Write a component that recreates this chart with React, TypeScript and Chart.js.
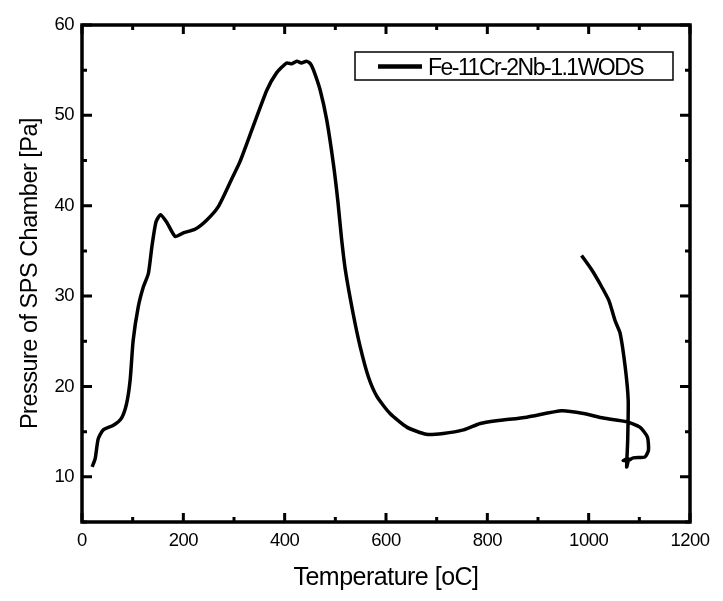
import React, { useEffect, useRef } from "react";
import { Chart, registerables } from "chart.js";

Chart.register(...registerables);

const seriesLabel = "Fe-11Cr-2Nb-1.1WODS";
const xTitle = "Temperature [oC]";
const yTitle = "Pressure of SPS Chamber [Pa]";

const temperature = [
  20, 26, 32, 42, 62, 78, 88, 95, 101, 111, 121, 131, 138, 146, 155, 168, 184,
  200, 223, 246, 269, 295, 312, 338, 365, 384, 404, 414, 424, 433, 443, 451,
  457, 470, 483, 496, 505, 512, 520, 535, 549, 565, 582, 608, 641, 680, 713,
  753, 786, 818, 878, 947, 990, 1029, 1075, 1101, 1116, 1118, 1111, 1088, 1078,
  1068, 1078, 1075, 1077, 1078, 1072, 1062, 1052, 1040, 1022, 1005, 986,
];
const pressure = [
  11.1, 12.0, 14.2, 15.2, 15.7, 16.5, 18.1, 20.7, 25.1, 28.8, 31.0, 32.5, 35.5,
  38.2, 39.0, 38.1, 36.6, 37.0, 37.4, 38.4, 39.9, 42.9, 44.9, 48.8, 52.8, 54.7,
  55.8, 55.7, 56.0, 55.8, 56.0, 55.7, 55.0, 52.8, 49.5, 44.7, 40.5, 36.5, 32.8,
  28.1, 24.4, 21.1, 18.9, 17.0, 15.5, 14.7, 14.8, 15.2, 15.9, 16.2, 16.6, 17.3,
  17.0, 16.5, 16.1, 15.5, 14.4, 12.95, 12.2, 12.1, 11.8, 11.8, 12.0, 11.1, 14.0,
  18.5, 22.2, 25.9, 27.3, 29.5, 31.4, 33.0, 34.5,
];

const xTickValues = [0, 200, 400, 600, 800, 1000, 1200];
const xMinorValues = [100, 300, 500, 700, 900, 1100];
const yTickValues = [10, 20, 30, 40, 50, 60];
const yMinorValues = [5, 15, 25, 35, 45, 55];

const FONT = "'Liberation Sans', Arial, sans-serif";

const framePlugin = {
  id: "frameTicks",
  beforeDraw(chart: any) {
    chart.ctx.letterSpacing = "-0.5px";
  },
  afterDraw(chart: any) {
    const { ctx, chartArea, scales } = chart;
    const { left, right, top, bottom } = chartArea;
    const xs = scales.x;
    const ys = scales.y;
    ctx.save();
    ctx.strokeStyle = "#000";
    ctx.lineWidth = 3.5;
    ctx.lineCap = "butt";
    ctx.strokeRect(left, top, right - left, bottom - top);
    ctx.lineWidth = 3;
    const drawX = (v: number, len: number) => {
      const p = xs.getPixelForValue(v);
      ctx.beginPath();
      ctx.moveTo(p, bottom);
      ctx.lineTo(p, bottom - len);
      ctx.moveTo(p, top);
      ctx.lineTo(p, top + len);
      ctx.stroke();
    };
    const drawY = (v: number, len: number) => {
      const p = ys.getPixelForValue(v);
      ctx.beginPath();
      ctx.moveTo(left, p);
      ctx.lineTo(left + len, p);
      ctx.moveTo(right, p);
      ctx.lineTo(right - len, p);
      ctx.stroke();
    };
    xTickValues.forEach((v) => drawX(v, 9));
    xMinorValues.forEach((v) => drawX(v, 5));
    yTickValues.forEach((v) => drawY(v, 10));
    yMinorValues.forEach((v) => drawY(v, 5));

    // legend
    const bx = right - 335;
    const by = top + 27;
    const bw = 318;
    const bh = 28;
    ctx.lineWidth = 1.5;
    ctx.strokeRect(bx, by, bw, bh);
    ctx.lineWidth = 4.5;
    ctx.beginPath();
    ctx.moveTo(bx + 23, by + bh / 2 + 0.5);
    ctx.lineTo(bx + 67, by + bh / 2 + 0.5);
    ctx.stroke();
    ctx.fillStyle = "#000";
    ctx.font = `23px ${FONT}`;
    ctx.letterSpacing = "-1.5px";
    ctx.textBaseline = "alphabetic";
    ctx.textAlign = "left";
    ctx.fillText(seriesLabel, bx + 73, by + 22.5);
    ctx.restore();
  },
};

export default function App() {
  const ref = useRef<HTMLCanvasElement | null>(null);
  useEffect(() => {
    if (!ref.current) return;
    const data = temperature.map((t, i) => ({ x: t, y: pressure[i] }));
    const chart = new Chart(ref.current, {
      type: "scatter",
      data: {
        datasets: [
          {
            label: seriesLabel,
            data,
            showLine: true,
            borderColor: "#000",
            backgroundColor: "#000",
            borderWidth: 3.5,
            pointRadius: 0,
            tension: 0.2,
          },
        ],
      },
      options: {
        responsive: false,
        animation: false,
        devicePixelRatio: 1,
        layout: { padding: { left: 0, top: 25, right: 33, bottom: 0 } },
        plugins: { legend: { display: false }, tooltip: { enabled: false } },
        scales: {
          x: {
            type: "linear",
            min: 0,
            max: 1200,
            grid: { display: false, drawTicks: false },
            border: { display: false },
            afterBuildTicks: (s: any) => {
              s.ticks = xTickValues.map((v) => ({ value: v }));
            },
            afterFit: (s: any) => {
              s.height = 79;
            },
            ticks: {
              color: "#000",
              font: { family: FONT, size: 18.5 },
              padding: 8,
              maxRotation: 0,
              callback: (v: any) => String(v),
            },
            title: {
              display: true,
              text: xTitle,
              color: "#000",
              font: { family: FONT, size: 25 },
              padding: { top: 0, bottom: 8 },
            },
          },
          y: {
            type: "linear",
            min: 5,
            max: 60,
            grid: { display: false, drawTicks: false },
            border: { display: false },
            afterBuildTicks: (s: any) => {
              s.ticks = yTickValues.map((v) => ({ value: v }));
            },
            afterFit: (s: any) => {
              s.width = 82;
            },
            ticks: {
              color: "#000",
              font: { family: FONT, size: 18.5 },
              padding: 8,
              callback: (v: any) => String(v),
            },
            title: {
              display: true,
              text: yTitle,
              color: "#000",
              font: { family: FONT, size: 23.5 },
              padding: { top: 16, bottom: 0 },
            },
          },
        },
      },
      plugins: [framePlugin],
    });
    return () => chart.destroy();
  }, []);
  return (
    <div
      style={{
        position: "fixed",
        left: 0,
        top: 0,
        width: 723,
        height: 601,
        background: "#fff",
      }}
    >
      <canvas ref={ref} width={723} height={601} style={{ width: 723, height: 601 }} />
    </div>
  );
}
